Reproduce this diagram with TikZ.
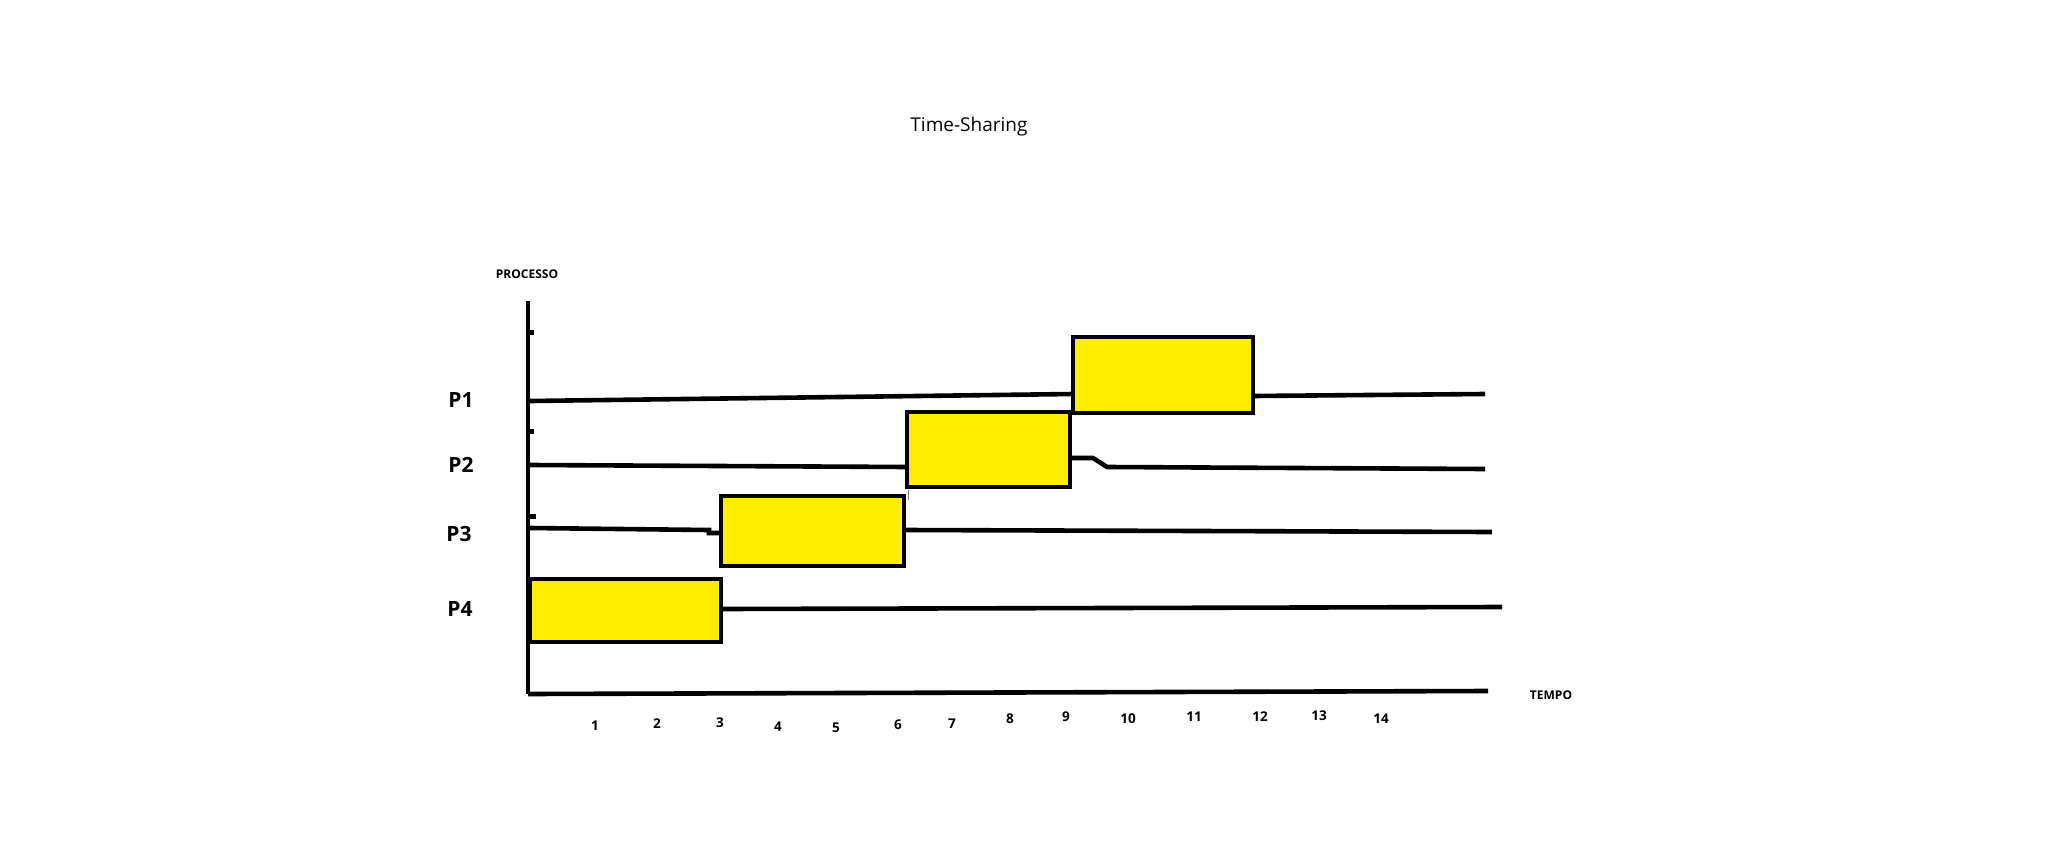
\documentclass[tikz,border=0pt]{standalone}
\usepackage{fontspec}
\setmainfont{Open Sans}
\begin{document}
\begin{tikzpicture}[x=1pt,y=-1pt,
  track/.style={line width=4.6pt,black,line cap=butt},
  slot/.style={draw=black,line width=4.6pt,fill=yellow!95!orange,inner sep=0pt,outer sep=0pt},
  plabel/.style={font=\bfseries\fontsize{21}{21}\selectfont,inner sep=0pt},
  axlabel/.style={font=\bfseries\fontsize{12}{12}\selectfont,inner sep=0pt},
  tlabel/.style={font=\bfseries\fontsize{13.5}{13.5}\selectfont,inner sep=0pt},
  mark/.style={line width=5pt,black}]
\useasboundingbox (0,0) rectangle (2064,864);
\fill[white] (0,0) rectangle (2064,864);

% title
\node[font=\fontsize{19}{19}\selectfont,inner sep=0pt] (title) at (969,127) {Time-Sharing};

% axes
\coordinate (ytop) at (528,301);
\coordinate (origin) at (528,694);
\coordinate (xend) at (1488,691);
\draw[track] (ytop) -- (origin);
\draw[track] (origin) -- (xend);
\node[axlabel] (ylab) at (527,274) {PROCESSO};
\node[axlabel] (xlab) at (1551,695) {TEMPO};

% small marks on the axis
\coordinate (m1) at (526,332);
\coordinate (m2) at (526,431);
\coordinate (m3) at (529,516);
\draw[line width=5pt] (m1) -- ++(8,0);
\draw[line width=5pt] (m2) -- ++(8,0);
\draw[line width=5pt] (m3) -- ++(7,0);

% process labels
\node[plabel] (P1) at (461,400) {P1};
\node[plabel] (P2) at (461,465) {P2};
\node[plabel] (P3) at (459,534) {P3};
\node[plabel] (P4) at (460,609) {P4};

% CPU slots
\node[slot,minimum width=180pt,minimum height=76pt] (b1) at (1163,375) {};
\node[slot,minimum width=163pt,minimum height=75pt] (b2) at (988.5,449.5) {};
\node[slot,minimum width=183pt,minimum height=70pt] (b3) at (812.5,531) {};
\node[slot,minimum width=191pt,minimum height=63pt] (b4) at (625.5,610.5) {};

% P1
\coordinate (p1a) at (530,401);
\coordinate (p1e) at (1485,394);
\draw[track] (p1a) -- ([yshift=-19pt]b1.west);
\draw[track] ([yshift=-21pt]b1.east) -- (p1e);

% P2
\coordinate (p2a) at (530,465);
\coordinate (p2e) at (1485,469);
\coordinate (p2k1) at (1093,458);
\coordinate (p2k2) at (1107,467);
\draw[track] (p2a) -- ([yshift=-17.5pt]b2.west);
\draw[track,line join=round] ([yshift=-8.5pt]b2.east) -- (p2k1) -- (p2k2) -- (p2e);
\coordinate (tk) at (908,490);
\draw[line width=0.6pt,gray] (tk) -- ++(0,10);

% P3
\coordinate (p3a) at (530,528);
\coordinate (p3k) at (709,530);
\coordinate (p3e) at (1492,532);
\draw[track] (p3a) -- (p3k) -- ++(0,3) -- ([yshift=-2pt]b3.west);
\draw[track] ([yshift=1pt]b3.east) -- (p3e);

% P4
\coordinate (p4e) at (1502,607);
\draw[track] ([yshift=1.5pt]b4.east) -- (p4e);

% time ticks
\foreach \n/\x/\y in {1/595/726,2/657/724,3/720/723,4/778/727,5/836/728,6/898/725,7/952/724,8/1010/719,9/1066/717,10/1128/719,11/1194/717,12/1260/717,13/1319/716,14/1381/719}{
  \node[tlabel] (t\n) at (\x,\y) {\n};
}
\end{tikzpicture}
\end{document}
